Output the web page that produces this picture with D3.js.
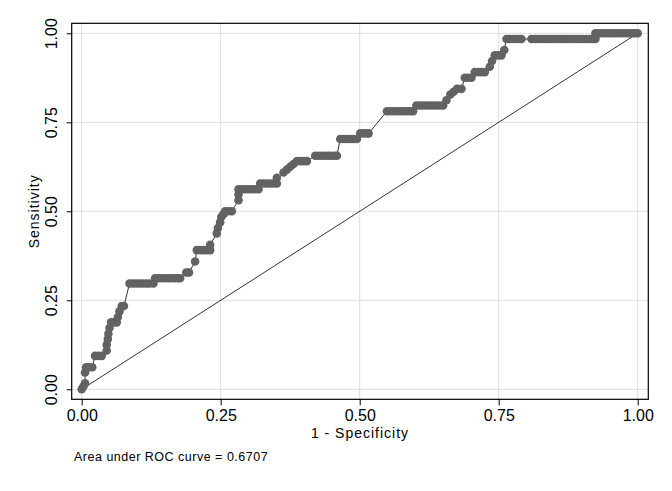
<!DOCTYPE html>
<html>
<head>
<meta charset="utf-8">
<script src="https://cdn.jsdelivr.net/npm/d3@7"></script>
<style>
  body { margin: 0; background: #fff; }
  text { font-family: "Liberation Sans", Arial, sans-serif; fill: #000; }
</style>
</head>
<body>
<svg id="chart"></svg>
<script>
// ROC points: 1 - specificity and sensitivity
const fpr = [
  0.000, 0.003, 0.006, 0.006, 0.008, 0.013, 0.019,
  0.024, 0.030, 0.036,
  0.045, 0.045, 0.047, 0.048, 0.050, 0.053, 0.058, 0.063, 0.065, 0.068, 0.072, 0.076,
  0.086, 0.092, 0.098, 0.104, 0.110, 0.116, 0.122, 0.129,
  0.132, 0.138, 0.144, 0.150, 0.156, 0.162, 0.168, 0.174, 0.177,
  0.188, 0.193, 0.204,
  0.207, 0.213, 0.219, 0.225, 0.231, 0.231,
  0.243, 0.245, 0.249, 0.251, 0.255,
  0.258, 0.264, 0.270,
  0.282, 0.282, 0.282, 0.288, 0.294, 0.300, 0.306, 0.312, 0.318,
  0.321, 0.327, 0.333, 0.339, 0.345, 0.351, 0.351,
  0.363, 0.369, 0.375, 0.381, 0.387, 0.393, 0.399, 0.405,
  0.420, 0.426, 0.432, 0.438, 0.444, 0.450, 0.456, 0.459,
  0.465, 0.471, 0.477, 0.483, 0.489, 0.495,
  0.501, 0.507, 0.513, 0.516,
  0.549, 0.555, 0.561, 0.567, 0.573, 0.579, 0.585, 0.591, 0.596,
  0.602, 0.608, 0.614, 0.620, 0.626, 0.632, 0.638, 0.644, 0.650,
  0.656, 0.663, 0.669, 0.675, 0.683,
  0.689, 0.695, 0.701, 0.707, 0.713, 0.719, 0.725,
  0.734, 0.738, 0.743, 0.749, 0.755, 0.760,
  0.764, 0.770, 0.776, 0.782, 0.788, 0.791,
  0.809, 0.815, 0.821, 0.827, 0.833, 0.839, 0.845, 0.851, 0.857, 0.863, 0.869, 0.872,
  0.878, 0.884, 0.890, 0.896, 0.902, 0.908, 0.914, 0.920, 0.924,
  0.924, 0.930, 0.936, 0.942, 0.948, 0.954, 0.960, 0.966, 0.972, 0.978, 0.984, 0.990, 0.995, 1.000
];
const tpr = [
  0.000, 0.008, 0.017, 0.047, 0.062, 0.062, 0.062,
  0.094, 0.094, 0.094,
  0.109, 0.125, 0.141, 0.156, 0.172, 0.188, 0.188, 0.188, 0.203, 0.219, 0.234, 0.234,
  0.297, 0.297, 0.297, 0.297, 0.297, 0.297, 0.297, 0.297,
  0.312, 0.312, 0.312, 0.312, 0.312, 0.312, 0.312, 0.312, 0.312,
  0.328, 0.328, 0.359,
  0.391, 0.391, 0.391, 0.391, 0.391, 0.406,
  0.438, 0.453, 0.469, 0.484, 0.492,
  0.500, 0.500, 0.500,
  0.531, 0.547, 0.562, 0.562, 0.562, 0.562, 0.562, 0.562, 0.562,
  0.578, 0.578, 0.578, 0.578, 0.578, 0.578, 0.594,
  0.609, 0.617, 0.625, 0.633, 0.641, 0.641, 0.641, 0.641,
  0.656, 0.656, 0.656, 0.656, 0.656, 0.656, 0.656, 0.656,
  0.703, 0.703, 0.703, 0.703, 0.703, 0.703,
  0.719, 0.719, 0.719, 0.719,
  0.781, 0.781, 0.781, 0.781, 0.781, 0.781, 0.781, 0.781, 0.781,
  0.797, 0.797, 0.797, 0.797, 0.797, 0.797, 0.797, 0.797, 0.797,
  0.812, 0.828, 0.836, 0.844, 0.844,
  0.875, 0.875, 0.875, 0.891, 0.891, 0.891, 0.891,
  0.906, 0.922, 0.938, 0.938, 0.938, 0.953,
  0.984, 0.984, 0.984, 0.984, 0.984, 0.984,
  0.984, 0.984, 0.984, 0.984, 0.984, 0.984, 0.984, 0.984, 0.984, 0.984, 0.984, 0.984,
  0.984, 0.984, 0.984, 0.984, 0.984, 0.984, 0.984, 0.984, 0.984,
  1.000, 1.000, 1.000, 1.000, 1.000, 1.000, 1.000, 1.000, 1.000, 1.000, 1.000, 1.000, 1.000, 1.000
];
const tickValues = [0, 0.25, 0.5, 0.75, 1];
const aucLabel = "Area under ROC curve = 0.6707";

const width = 672, height = 491;

const svg = d3.select('#chart')
  .attr('width', width)
  .attr('height', height);

svg.append('rect').attr('width', width).attr('height', height).attr('fill', '#fff');

// plot region (frame) and data scales
const box = { left: 71.7, right: 648.3, top: 23.3, bottom: 399.3 };

const x = d3.scaleLinear().domain([0, 1]).range([81.7, 637.7]);
const y = d3.scaleLinear().domain([0, 1]).range([389.3, 33.3]);

// gridlines
const grid = svg.append('g').attr('class', 'grid')
  .attr('stroke', '#dedede').attr('stroke-width', 1);

grid.selectAll('.gx').data(tickValues).enter().append('line')
  .attr('x1', d => x(d)).attr('x2', d => x(d))
  .attr('y1', box.top).attr('y2', box.bottom);

grid.selectAll('.gy').data(tickValues).enter().append('line')
  .attr('x1', box.left).attr('x2', box.right)
  .attr('y1', d => y(d)).attr('y2', d => y(d));

// diagonal reference line
svg.append('line')
  .attr('x1', x(0)).attr('y1', y(0))
  .attr('x2', x(1)).attr('y2', y(1))
  .attr('stroke', '#000').attr('stroke-width', 0.8);

const points = fpr.map((d, i) => [d, tpr[i]]);

// connecting line, markers drawn over it
const line = d3.line().x(d => x(d[0])).y(d => y(d[1]));
svg.append('path')
  .datum(points)
  .attr('d', line)
  .attr('fill', 'none')
  .attr('stroke', '#000')
  .attr('stroke-width', 0.8);

svg.append('g').attr('class', 'markers')
  .selectAll('circle')
  .data(points)
  .enter().append('circle')
    .attr('cx', d => x(d[0]))
    .attr('cy', d => y(d[1]))
    .attr('r', 4.3)
    .attr('fill', '#626262');

// frame
svg.append('rect')
  .attr('x', box.left).attr('y', box.top)
  .attr('width', box.right - box.left).attr('height', box.bottom - box.top)
  .attr('fill', 'none').attr('stroke', '#000').attr('stroke-width', 1.2);

// x axis
const xAxis = d3.axisBottom(x)
  .tickValues(tickValues)
  .tickFormat(d3.format('.2f'))
  .tickSize(6)
  .tickPadding(4);

const gx = svg.append('g')
  .attr('transform', `translate(0,${box.bottom})`)
  .call(xAxis);
gx.select('.domain').remove();
gx.selectAll('line').attr('stroke', '#000');
gx.selectAll('text')
  .attr('font-size', 16)
  .attr('font-family', '"Liberation Sans", Arial, sans-serif')
  .attr('fill', '#000');

// y axis with rotated labels
const yAxis = d3.axisLeft(y)
  .tickValues(tickValues)
  .tickFormat(d3.format('.2f'))
  .tickSize(5);

const gy = svg.append('g')
  .attr('transform', `translate(${box.left},0)`)
  .call(yAxis);
gy.select('.domain').remove();
gy.selectAll('line').attr('stroke', '#000');
gy.selectAll('text')
  .attr('font-size', 16)
  .attr('font-family', '"Liberation Sans", Arial, sans-serif')
  .attr('fill', '#000')
  .attr('x', null).attr('dy', null)
  .attr('text-anchor', 'middle')
  .attr('transform', 'translate(-15,0) rotate(-90)');

// axis titles
svg.append('text')
  .attr('x', (box.left + box.right) / 2)
  .attr('y', 438)
  .attr('text-anchor', 'middle')
  .attr('font-size', 14)
  .attr('letter-spacing', 1)
  .text('1 - Specificity');

svg.append('text')
  .attr('transform', `translate(39,${(box.top + box.bottom) / 2}) rotate(-90)`)
  .attr('text-anchor', 'middle')
  .attr('font-size', 14)
  .attr('letter-spacing', 1)
  .text('Sensitivity');

// note
svg.append('text')
  .attr('x', 74)
  .attr('y', 461)
  .attr('font-size', 12.5)
  .attr('letter-spacing', 0.5)
  .text(aucLabel);
</script>
</body>
</html>
